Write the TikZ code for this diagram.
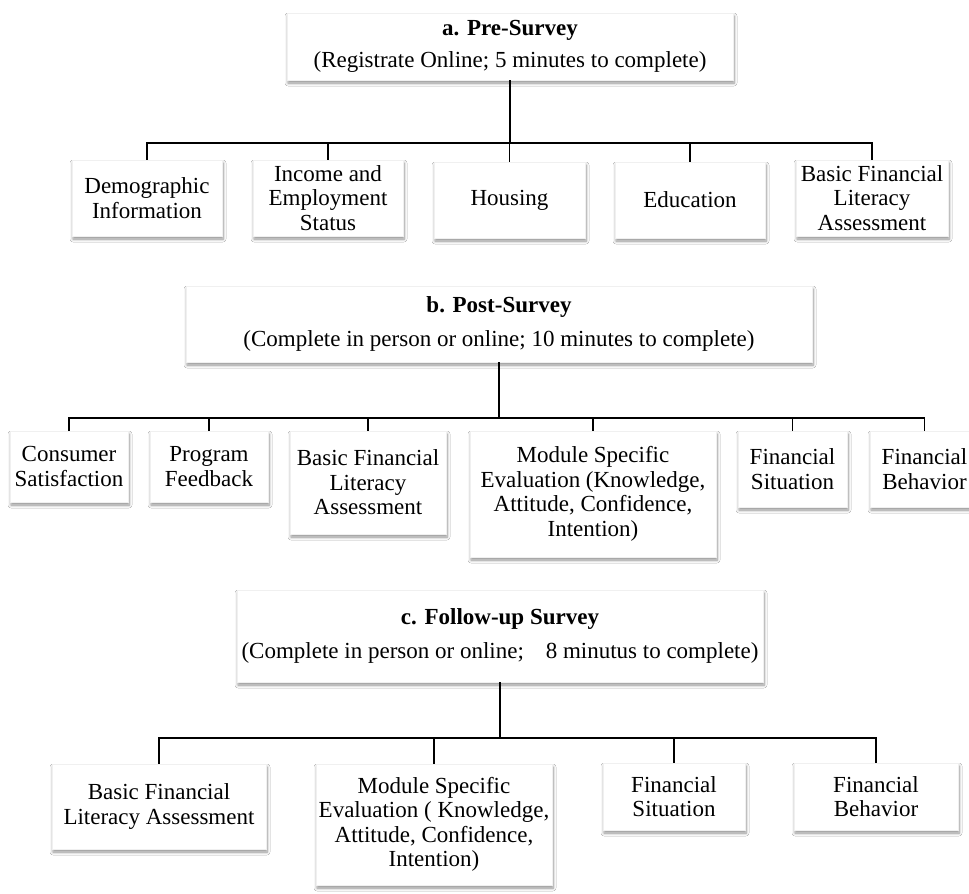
\documentclass[tikz,border=0pt]{standalone}
\usepackage{fontspec}
\setmainfont{Liberation Serif}
\usetikzlibrary{shadows.blur}
\tikzset{
        sz/.style 2 args={minimum width=#1pt, minimum height=#2pt},
        part/.style={fill=white, draw=black!6, align=center, inner sep=0pt, font=\fontsize{23}{24.5}\selectfont,
          blur shadow={shadow xshift=1pt, shadow yshift=-3pt, shadow blur radius=3pt, shadow blur steps=6, shadow opacity=45}},
        topic/.style={part},
        link/.style={draw=black, line width=1.5pt},
        mainlink/.style={draw=black, line width=2pt}
          }
\begin{document}
\begin{tikzpicture}[x=1pt, y=-1pt]
            \useasboundingbox (0,0) rectangle (969,894);
            \fill[white] (0,0) rectangle (969,894);

            \node[topic, sz={446}{67}] (pre) at (510,46.5) {\textbf{a. Pre-Survey}\\[7pt](Registrate Online; 5 minutes to complete)};
            \node[part, sz={150}{76}] (demo) at (147,198) {Demographic\\Information};
            \node[part, sz={150}{76}] (income) at (328,198) {Income and\\Employment\\Status};
            \node[part, sz={151}{76}] (housing) at (509.5,200) {Housing};
            \node[part, sz={150}{76}] (edu) at (690,200) {Education};
            \node[part, sz={152}{76}] (basicA) at (872,198) {Basic Financial\\Literacy\\Assessment};
            \coordinate (barA) at (510,143);
            \draw[mainlink] (pre.south) -- (barA);
            \foreach \c in {demo,income,housing,edu,basicA}
              \draw[link] (barA) -| (\c.north);

            \node[topic, sz={626}{76}] (post) at (499,324) {\textbf{b. Post-Survey}\\[10pt](Complete in person or online; 10 minutes to complete)};
            \node[part, sz={118}{71}] (consumer) at (69,466.5) {Consumer\\Satisfaction};
            \node[part, sz={118}{71}] (program) at (209,466.5) {Program\\Feedback};
            \node[part, sz={156}{103}] (basicB) at (368,482.5) {Basic Financial\\Literacy\\Assessment};
            \node[part, sz={246}{126}] (moduleB) at (593,494) {Module Specific\\Evaluation (Knowledge,\\Attitude, Confidence,\\Intention)};
            \node[part, sz={109}{76}] (situationB) at (792.5,469) {Financial\\Situation};
            \node[part, sz={109}{76}] (behaviorB) at (924.5,469) {Financial\\Behavior};
            \coordinate (barB) at (499,418);
            \draw[mainlink] (post.south) -- (barB);
            \foreach \c in {consumer,program,basicB,moduleB,situationB,behaviorB}
              \draw[link] (barB) -| (\c.north);

            \node[topic, sz={526}{92}] (follow) at (500,636) {\textbf{c. Follow-up Survey}\\[10pt](Complete in person or online;\hspace{0.7em} 8 minutus to complete)};
            \node[part, sz={214}{85}] (basicC) at (159,806.5) {Basic Financial\\Literacy Assessment};
            \node[part, sz={236}{121}] (moduleC) at (434,824.5) {Module Specific\\Evaluation ( Knowledge,\\Attitude, Confidence,\\Intention)};
            \node[part, sz={142}{67}] (situationC) at (674,796.5) {Financial\\Situation};
            \node[part, sz={164}{67}] (behaviorC) at (876,796.5) {Financial\\Behavior};
            \coordinate (barC) at (500,738);
            \draw[mainlink] (follow.south) -- (barC);
            \foreach \c in {basicC,moduleC,situationC,behaviorC}
              \draw[link] (barC) -| (\c.north);
          \end{tikzpicture}
\end{document}
